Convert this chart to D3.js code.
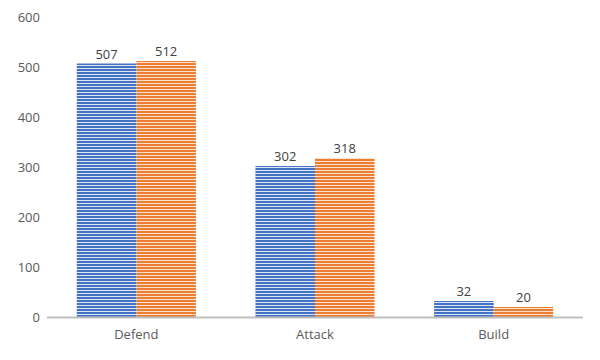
<!DOCTYPE html>
<html><head><meta charset="utf-8">
<script src="https://cdn.jsdelivr.net/npm/d3@7"></script>
<style>body{margin:0;background:#fff}svg{display:block}text{font-family:"Open Sans","Noto Sans","DejaVu Sans",sans-serif}</style>
</head><body><svg id="c" width="600" height="360"></svg>
<script>
const categories = ["Defend", "Attack", "Build"];
const seriesA = [507, 302, 32];
const seriesB = [512, 318, 20];
const yTicks = [0, 100, 200, 300, 400, 500, 600];

const svg = d3.select("#c");
const m = {l: 47, r: 17, t: 17, b: 43};
const W = 600, H = 360;
const x = d3.scaleBand().domain(categories).range([m.l, W - m.r]).paddingInner(0).paddingOuter(0);
const y = d3.scaleLinear().domain([0, 600]).range([H - m.b, m.t]);
const colors = ["#4472c4", "#ed7d31"];
const light = ["#dce6f5", "#fbe3d3"];

const defs = svg.append("defs");
colors.forEach((c, i) => {
  const p = defs.append("pattern").attr("id", "p" + i).attr("patternUnits", "userSpaceOnUse")
    .attr("width", 4).attr("height", 3);
  p.append("rect").attr("width", 4).attr("height", 3).attr("fill", light[i]);
  p.append("rect").attr("width", 4).attr("height", 2).attr("fill", c);
});

svg.append("g").selectAll("text").data(yTicks).join("text")
  .attr("x", 40).attr("y", d => y(d)).attr("dy", "0.35em").attr("text-anchor", "end")
  .attr("font-size", 13).attr("fill", "#595959").text(d => d);

const bw = x.bandwidth() / 3;
const series = [seriesA, seriesB];
series.forEach((s, i) => {
  const g = svg.append("g");
  g.selectAll("rect").data(categories).join("rect")
    .attr("x", (d) => x(d) + bw / 2 + i * bw)
    .attr("y", (d, j) => y(s[j]))
    .attr("width", bw)
    .attr("height", (d, j) => y(0) - y(s[j]))
    .attr("fill", "url(#p" + i + ")");
  g.selectAll("text").data(categories).join("text")
    .attr("x", (d) => x(d) + bw / 2 + i * bw + bw / 2)
    .attr("y", (d, j) => y(s[j]) - 5)
    .attr("text-anchor", "middle").attr("font-size", 13).attr("fill", "#404040")
    .text((d, j) => s[j]);
});

svg.append("line").attr("x1", m.l).attr("x2", W - m.r).attr("y1", y(0) + 0.5).attr("y2", y(0) + 0.5)
  .attr("stroke", "#bfbfbf").attr("stroke-width", 2);

svg.append("g").selectAll("text").data(categories).join("text")
  .attr("x", d => x(d) + x.bandwidth() / 2).attr("y", 339).attr("text-anchor", "middle")
  .attr("font-size", 13).attr("fill", "#595959").text(d => d);
</script></body></html>
